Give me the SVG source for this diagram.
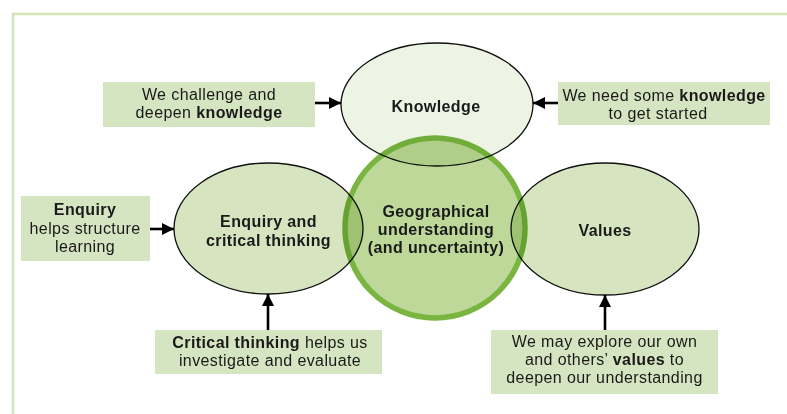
<svg xmlns="http://www.w3.org/2000/svg" width="787" height="414" viewBox="0 0 787 414">
  <style>
    .txt { font-family: "Liberation Sans", Arial, sans-serif; font-size: 16px; letter-spacing: 0.4px; fill: #1a1a1a; text-anchor: middle; }
    .b { font-weight: bold; }
    .note { fill: #d6e5c1; }
    .oval { stroke: #111; stroke-width: 1.3; mix-blend-mode: multiply; }
    .arrow { stroke: #000; stroke-width: 2.6; fill: none; marker-end: url(#head); }
  </style>
  <defs>
    <marker id="head" viewBox="0 0 12 12" markerWidth="12" markerHeight="12" markerUnits="userSpaceOnUse" refX="12" refY="6" orient="auto">
      <path d="M0,0 L12,6 L0,12 z" fill="#000"/>
    </marker>
  </defs>

  <rect width="787" height="414" fill="#fff"/>
  <!-- panel frame -->
  <path d="M13,414 V14 H787" fill="none" stroke="#d2e5b8" stroke-width="2.5"/>

  <!-- central circle -->
  <g id="node-geography">
    <circle cx="435" cy="228" r="90" fill="#bdd898" stroke="#79b540" stroke-width="5.5"/>
  </g>

  <!-- outer ovals -->
  <g id="node-knowledge">
    <ellipse class="oval" cx="437" cy="104.5" rx="96" ry="61.5" fill="#eef4e4"/>
  </g>
  <g id="node-enquiry">
    <ellipse class="oval" cx="268.5" cy="228.5" rx="94.5" ry="65.5" fill="#d6e5c0"/>
  </g>
  <g id="node-values">
    <ellipse class="oval" cx="605" cy="229" rx="94" ry="66" fill="#d6e5c0"/>
  </g>

  <!-- oval labels -->
  <text class="txt b" x="436" y="112">Knowledge</text>
  <text class="txt b" x="268.5" y="227">Enquiry and</text>
  <text class="txt b" x="268.5" y="246">critical thinking</text>
  <text class="txt b" x="605" y="236">Values</text>
  <text class="txt b" x="436" y="217">Geographical</text>
  <text class="txt b" x="436" y="235">understanding</text>
  <text class="txt b" x="436" y="253">(and uncertainty)</text>

  <!-- notes -->
  <g id="note-challenge">
    <rect class="note" x="103" y="82" width="212" height="45"/>
    <text class="txt" x="209" y="99.5">We challenge and</text>
    <text class="txt" x="209" y="117.5">deepen <tspan class="b">knowledge</tspan></text>
  </g>
  <g id="note-started">
    <rect class="note" x="558" y="82" width="212" height="43"/>
    <text class="txt" x="664" y="101">We need some <tspan class="b">knowledge</tspan></text>
    <text class="txt" x="658" y="119">to get started</text>
  </g>
  <g id="note-enquiry">
    <rect class="note" x="21" y="196" width="129" height="65"/>
    <text class="txt b" x="85" y="215">Enquiry</text>
    <text class="txt" x="85" y="233.5">helps structure</text>
    <text class="txt" x="85" y="252">learning</text>
  </g>
  <g id="note-critical">
    <rect class="note" x="155" y="330" width="227" height="44"/>
    <text class="txt" x="270" y="348"><tspan class="b">Critical thinking</tspan> helps us</text>
    <text class="txt" x="270" y="366">investigate and evaluate</text>
  </g>
  <g id="note-values">
    <rect class="note" x="491" y="330" width="227" height="64"/>
    <text class="txt" x="604.5" y="347">We may explore our own</text>
    <text class="txt" x="604.5" y="365">and others’ <tspan class="b">values</tspan> to</text>
    <text class="txt" x="604.5" y="383">deepen our understanding</text>
  </g>

  <!-- connectors -->
  <g id="connectors">
    <line class="arrow" x1="315" y1="103" x2="341" y2="103"/>
    <line class="arrow" x1="558" y1="103" x2="533" y2="103"/>
    <line class="arrow" x1="150" y1="229" x2="174" y2="229"/>
    <line class="arrow" x1="268" y1="330" x2="268" y2="294"/>
    <line class="arrow" x1="605" y1="330" x2="605" y2="295"/>
  </g>
</svg>
